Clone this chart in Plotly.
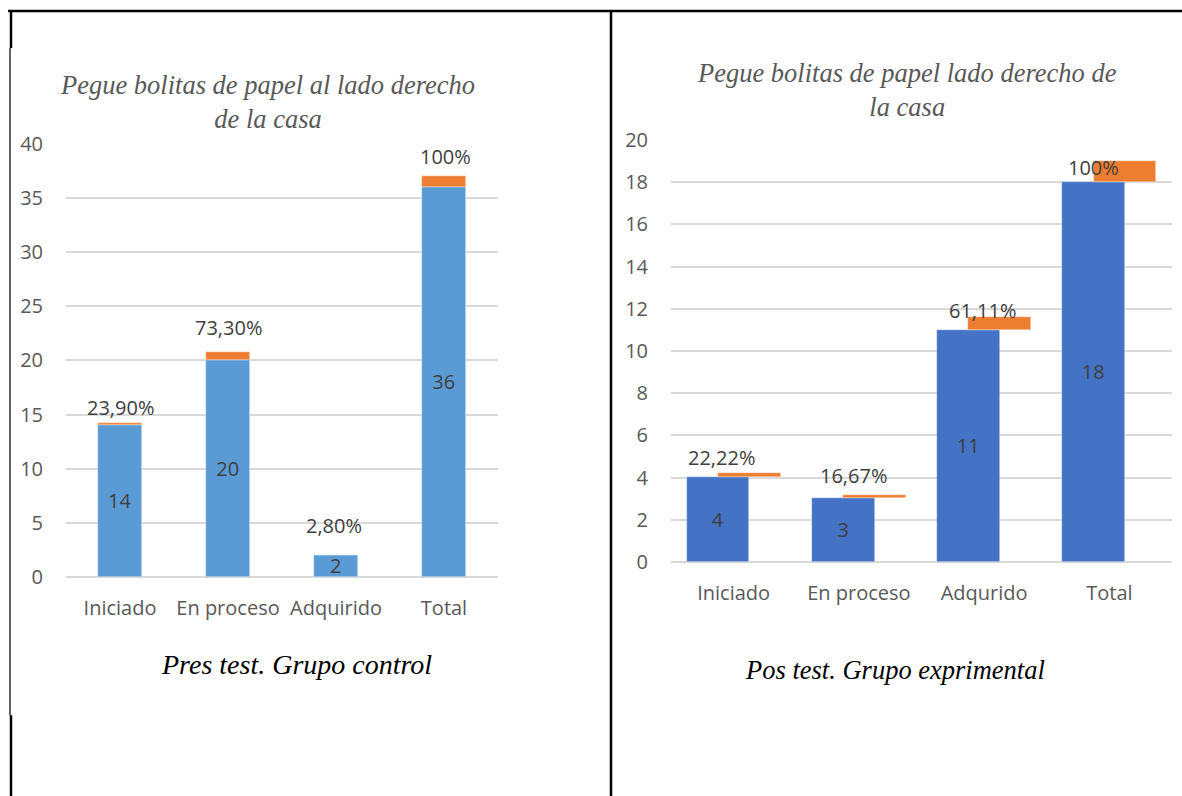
import plotly.graph_objects as go

# ---- data -----------------------------------------------------------
categorias_pre = ["Iniciado", "En proceso", "Adquirido", "Total"]
conteo_pre = [14, 20, 2, 36]
porcentaje_pre = [23.90, 73.30, 2.80, 100]
ticks_pre = [0, 5, 10, 15, 20, 25, 30, 35, 40]

categorias_pos = ["Iniciado", "En proceso", "Adqurido", "Total"]
conteo_pos = [4, 3, 11, 18]
porcentaje_pos = [22.22, 16.67, 61.11, 100]
ticks_pos = [0, 2, 4, 6, 8, 10, 12, 14, 16, 18, 20]

titulo_pre = "Pegue bolitas de papel al lado derecho<br>de la casa"
titulo_pos = "Pegue bolitas de papel lado derecho de<br>la casa"
pie_pre = "Pres test. Grupo control"
pie_pos = "Pos test. Grupo exprimental"

# ---- styling ----------------------------------------------------------
W, H = 1182, 796
# vertical frame inset of the page (top offset, vertical scale)
Y_TOP, Y_SCALE = 13.9, 0.966

AZUL_PRE = "#5B9BD5"
AZUL_POS = "#4472C4"
NARANJA = "#ED7D31"
GRID = "#D9D9D9"
TXT = "#404040"
TICK = "#595959"
SANS = "Open Sans"
SERIF = "Liberation Serif"
FS = 20

# pixel nudges for the percentage labels (x, y)
nudge_pre = [(0, 15), (0, 25), (-2, 29), (1, 20)]
nudge_pos = [(-12, 15), (-5, 20), (-2, 7), (-16, -6)]


def px(x):
    return x / W


def py(y):
    return 1 - ((y - Y_TOP) / Y_SCALE) / H


def fmt_pct(v):
    if float(v).is_integer():
        return f"{int(v)}%"
    return f"{v:.2f}%".replace(".", ",")


fig = go.Figure()

panels = [
    dict(cats=categorias_pre, cnt=conteo_pre, pct=porcentaje_pre, blue=AZUL_PRE,
         w=0.4, off_b=-0.2, off_o=-0.2, xa="x", ya="y", nudge=nudge_pre),
    dict(cats=categorias_pos, cnt=conteo_pos, pct=porcentaje_pos, blue=AZUL_POS,
         w=0.5, off_b=-0.375, off_o=-0.125, xa="x2", ya="y2", nudge=nudge_pos),
]

annotations = []
for p in panels:
    fig.add_trace(go.Bar(
        x=p["cats"], y=p["cnt"], width=p["w"], offset=p["off_b"],
        marker=dict(color=p["blue"], line=dict(color="rgba(255,255,255,0.6)", width=0.6)),
        text=[str(v) for v in p["cnt"]], textposition="inside",
        insidetextanchor="middle", textangle=0, constraintext="none",
        textfont=dict(family=SANS, size=FS, color=TXT),
        xaxis=p["xa"], yaxis=p["ya"], hoverinfo="skip",
    ))
    fig.add_trace(go.Bar(
        x=p["cats"], y=[v / 100 for v in p["pct"]], base=p["cnt"],
        width=p["w"], offset=p["off_o"],
        marker=dict(color=NARANJA, line=dict(color="rgba(255,255,255,0.6)", width=0.6)),
        xaxis=p["xa"], yaxis=p["ya"], hoverinfo="skip",
    ))
    for c, n, v, (dx, dy) in zip(p["cats"], p["cnt"], p["pct"], p["nudge"]):
        annotations.append(dict(
            x=c, y=n + v / 100, xref=p["xa"], yref=p["ya"],
            text=fmt_pct(v), showarrow=False, xanchor="center", yanchor="middle",
            xshift=dx, yshift=dy, font=dict(family=SANS, size=FS, color=TXT),
        ))

# chart titles and captions
for txt, cx, cy, size in [
    (titulo_pre, 267, 102, 26.5),
    (titulo_pos, 907, 90, 26.5),
]:
    annotations.append(dict(
        x=px(cx), y=py(cy), xref="paper", yref="paper", text=f"<i>{txt}</i>",
        showarrow=False, xanchor="center", yanchor="middle", align="center",
        font=dict(family=SERIF, size=size, color=TICK),
    ))
for txt, cx, cy, size in [(pie_pre, 296, 664, 28), (pie_pos, 895, 670, 26.5)]:
    annotations.append(dict(
        x=px(cx), y=py(cy), xref="paper", yref="paper", text=f"<i>{txt}</i>",
        showarrow=False, xanchor="center", yanchor="middle",
        font=dict(family=SERIF, size=size, color="#000000"),
    ))

# table borders around the two panels
shapes = []


def seg(x0, y0, x1, y1, w, color="#000000"):
    shapes.append(dict(type="line", xref="paper", yref="paper",
                       x0=px(x0), y0=py(y0), x1=px(x1), y1=py(y1),
                       line=dict(color=color, width=w)))


seg(8, 11, W, 11, 2.5)
seg(11, 10, 11, 48, 2.5)
seg(10, 48, 10, 715, 1.4, "#222222")
seg(11, 715, 11, H + 40, 2.5)
seg(611, 10, 611, H + 40, 2.5)

axis_common_x = dict(type="category", showgrid=False, zeroline=False, showline=False,
                     ticks="", tickfont=dict(family=SANS, size=FS, color=TICK),
                     fixedrange=True)
axis_common_y = dict(showgrid=True, gridcolor=GRID, gridwidth=1.5,
                     zeroline=True, zerolinecolor=GRID, zerolinewidth=1.5,
                     showline=False, ticks="", ticklabelstandoff=22,
                     tickfont=dict(family=SANS, size=FS, color=TICK), fixedrange=True)

fig.update_layout(
    width=W, height=H, autosize=False,
    margin=dict(l=0, r=0, t=0, b=0),
    paper_bgcolor="white", plot_bgcolor="white",
    showlegend=False, barmode="overlay", bargap=0,
    xaxis=dict(domain=[px(66), px(498)], anchor="y", ticklabelstandoff=17,
               categoryorder="array", categoryarray=categorias_pre, **axis_common_x),
    yaxis=dict(domain=[py(576.7), py(144)], anchor="x", range=[0, 40],
               tickvals=ticks_pre, **axis_common_y),
    xaxis2=dict(domain=[px(671), px(1172)], anchor="y2", ticklabelstandoff=17,
                categoryorder="array", categoryarray=categorias_pos, **axis_common_x),
    yaxis2=dict(domain=[py(561.7), py(140)], anchor="x2", range=[0, 20],
                tickvals=ticks_pos, **axis_common_y),
    annotations=annotations,
    shapes=shapes,
)

fig.write_html("out.html")
